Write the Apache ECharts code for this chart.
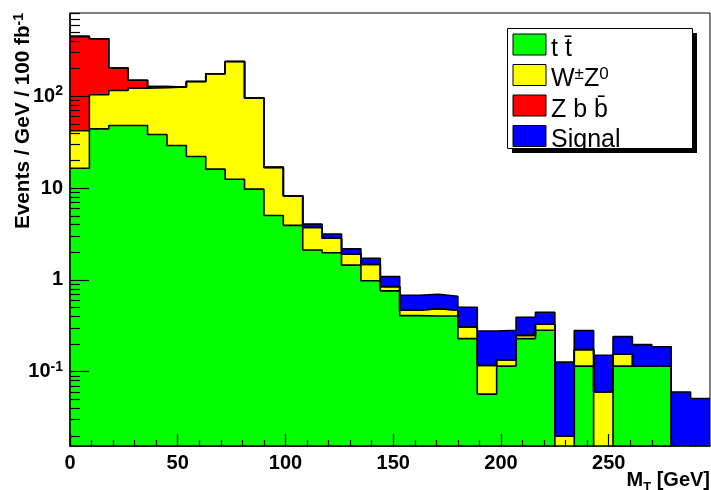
<!DOCTYPE html>
<html lang="en">
<head>
<meta charset="UTF-8" />
<title>M_T stack</title>
<script src="https://cdn.jsdelivr.net/npm/echarts@6.0.0/dist/echarts.min.js"></script>
<style>
    * { margin: 0; padding: 0; }
    body { background: #fff; }
    #chart { width: 711px; height: 490px; }
</style>
</head>
<body>
<div id="chart"></div>
<script type="text/javascript">
// 33 bins of 9 GeV from 0 to 297, values in events / GeV / 100 fb^-1
const binWidth = 9;
const ttbar = [16.5, 44.3, 48.2, 48.2, 38.4, 29.1, 22.1, 16.1, 12.5, 9.75, 5.03, 3.93, 2.12, 1.98, 1.45, 0.98,
    0.76, 0.408, 0.405, 0.405, 0.229, 0.057, 0.115, 0.229, 0.283, 0, 0.115, 0, 0.115, 0.115, 0.115, 0, 0];
const wz = [25.7, 59.8, 67.8, 74.9, 85.7, 97.2, 123.2, 160.2, 227.8, 86.1, 11.8, 4.31, 1.6, 0.87, 0.46, 0.49,
    0.086, 0.059, 0.081, 0.062, 0.078, 0.06, 0.019, 0.02, 0.046, 0.02, 0.059, 0.06, 0.04, 0, 0, 0, 0];
const zbb = [408, 321, 87.6, 26.9, 4.2, 0, 0, 0, 0, 0, 0, 0, 0, 0, 0, 0,
    0, 0, 0, 0, 0, 0, 0, 0, 0, 0, 0, 0, 0, 0, 0, 0, 0];
const signal = [0, 0, 0, 0, 0, 0, 0, 0, 0, 0, 0, 0, 0.33, 0.32, 0.27, 0.25,
    0.241, 0.214, 0.212, 0.197, 0.197, 0.161, 0.149, 0.143, 0.115, 0.107, 0.106, 0.091, 0.086, 0.082, 0.072, 0.06, 0.051];

const xMajorTicks = [0, 50, 100, 150, 200, 250];
const yMajorTicks = [0.1, 1, 10, 100];
const yTickLabels = ['{b|10}{s|-1}', '{b|1}', '{b|10}', '{b|10}{s|2}'];

const xMinorTicks = [];
for (let v = 10; v < 297; v += 10) if (v % 50) xMinorTicks.push(v);
const yMinorTicks = [];
for (let e = -2; e <= 2; e++) for (let k = 2; k <= 9; k++) yMinorTicks.push(k * Math.pow(10, e));

const font = '"Liberation Sans", Arial, Helvetica, sans-serif';

// stack the histograms
const cum = [];
let run = ttbar.map(() => 0);
[ttbar, wz, zbb, signal].forEach(function (h) {
    run = run.map((v, i) => v + h[i]);
    cum.push(run);
});

// step outline: one point per bin edge
function stepData(vals) {
    const pts = [];
    for (let i = 0; i <= vals.length; i++) {
        const v = vals[Math.min(i, vals.length - 1)];
        pts.push([i * binWidth, v > 0 ? v : 1e-4]);
    }
    return pts;
}

const names = ['ttbar', 'wz', 'zbb', 'signal'];
const colors = ['#00ff00', '#ffff00', '#ff0000', '#0000ff'];
const labels = {
    ttbar: '{n|t t\u0304}',
    wz: '{n|W}{s|\u00b1}{n|Z}{s|0}',
    zbb: '{n|Z b b\u0304}',
    signal: '{n|Signal}'
};
// swatch in the top 21px of a 29.5px legend row (the trailing move-to keeps the row height)
const swatchIcon = 'path://M0,0L33,0L33,21L0,21ZM0,29.5';

const series = [];
for (let k = 3; k >= 0; k--) {
    series.push({
        name: names[k],
        type: 'line',
        step: 'end',
        data: stepData(cum[k]),
        showSymbol: false,
        symbol: 'none',
        lineStyle: { color: '#000', width: 1.6 },
        itemStyle: { color: colors[k] },
        areaStyle: { color: colors[k], opacity: 1, origin: 'start' },
        emphasis: { disabled: true },
        silent: true
    });
}

const chart = echarts.init(document.getElementById('chart'));
const axisCommon = {
    min: 0, max: 297,
    splitLine: { show: false }
};
const yCommon = {
    type: 'log', logBase: 10, min: 0.0155, max: 810,
    splitLine: { show: false }, minorTick: { show: false }
};
const option = {
    animation: false,
    grid: { left: 70, right: 1, top: 13, bottom: 44, show: true, borderColor: '#000', borderWidth: 1, backgroundColor: '#fff' },
    xAxis: [
        Object.assign({
            type: 'value', position: 'bottom', z: 10,
            axisLine: { lineStyle: { color: '#000', width: 1.5 } },
            axisTick: { inside: true, length: 12, customValues: xMajorTicks, lineStyle: { color: '#000', width: 1.2 } },
            axisLabel: { customValues: xMajorTicks, margin: 7, color: '#000', fontSize: 20, fontWeight: 'bold', fontFamily: font }
        }, axisCommon),
        Object.assign({
            type: 'value', position: 'bottom', z: 10,
            axisLine: { show: false },
            axisTick: { inside: true, length: 6, customValues: xMinorTicks, lineStyle: { color: '#000', width: 1.2 } },
            axisLabel: { show: false }
        }, axisCommon)
    ],
    yAxis: [
        Object.assign({
            position: 'left', z: 10,
            axisLine: { show: true, lineStyle: { color: '#000', width: 1.5 } },
            axisTick: { show: true, inside: true, length: 19, customValues: yMajorTicks, lineStyle: { color: '#000', width: 1.2 } },
            axisLabel: {
                customValues: yMajorTicks, margin: 7, color: '#000',
                formatter: function (v) {
                    return yTickLabels[Math.round(Math.log10(v)) + 1];
                },
                rich: {
                    b: { fontSize: 20, fontWeight: 'bold', fontFamily: font, color: '#000', lineHeight: 24 },
                    s: { fontSize: 14, fontWeight: 'bold', fontFamily: font, color: '#000', verticalAlign: 'top', lineHeight: 14 }
                }
            }
        }, yCommon),
        Object.assign({
            position: 'left', z: 10,
            axisLine: { show: false },
            axisTick: { show: true, inside: true, length: 10, customValues: yMinorTicks, lineStyle: { color: '#000', width: 1.2 } },
            axisLabel: { show: false }
        }, yCommon)
    ],
    legend: {
        orient: 'vertical', left: 512.5, top: 33.5, padding: 0, z: 20,
        itemWidth: 33, itemHeight: 29.5, itemGap: 0, icon: swatchIcon,
        data: names.map((n, i) => ({ name: n, itemStyle: { color: colors[i], borderColor: '#000', borderWidth: 1 } })),
        selectedMode: false,
        formatter: function (name) { return labels[name]; },
        textStyle: {
            rich: {
                n: { fontSize: 25, fontFamily: font, color: '#000', lineHeight: 26 },
                s: { fontSize: 17, fontFamily: font, color: '#000', verticalAlign: 'top', lineHeight: 16 }
            }
        }
    },
    graphic: [
        { type: 'rect', z: 15, silent: true, shape: { x: 512, y: 33, width: 185, height: 120 }, style: { fill: '#000' } },
        { type: 'rect', z: 16, silent: true, shape: { x: 507.5, y: 28.5, width: 185, height: 120 }, style: { fill: '#fff', stroke: '#000', lineWidth: 1 } },
        {
            type: 'text', z: 16, silent: true, x: 34, y: 13, rotation: Math.PI / 2,
            style: {
                text: '{a|Events / GeV / 100 fb}{s|-1}', align: 'right', verticalAlign: 'bottom',
                rich: {
                    a: { fontSize: 20.7, fontWeight: 'bold', fontFamily: font, fill: '#000', lineHeight: 22 },
                    s: { fontSize: 14, fontWeight: 'bold', fontFamily: font, fill: '#000', verticalAlign: 'top', lineHeight: 13 }
                }
            }
        },
        {
            type: 'text', z: 16, silent: true, x: 710, y: 494,
            style: {
                text: '{a|M}{t|T}{a| [GeV]}', align: 'right', verticalAlign: 'bottom',
                rich: {
                    a: { fontSize: 20, fontWeight: 'bold', fontFamily: font, fill: '#000', lineHeight: 28 },
                    t: { fontSize: 13, fontWeight: 'bold', fontFamily: font, fill: '#000', verticalAlign: 'bottom', lineHeight: 13 }
                }
            }
        }
    ],
    series: series
};
chart.setOption(option);
</script>
</body>
</html>
